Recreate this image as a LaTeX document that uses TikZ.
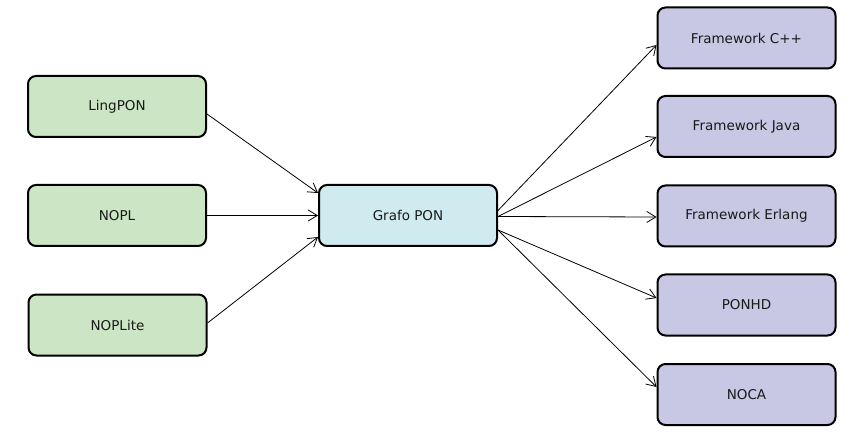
\documentclass[tikz,border=0pt]{standalone}
\usepackage{fontspec}
\setmainfont{DejaVu Sans}
\usetikzlibrary{arrows.meta}
\definecolor{srcgreen}{RGB}{204,229,196}
\definecolor{midcyan}{RGB}{208,235,240}
\definecolor{dstlav}{RGB}{200,200,228}
\definecolor{txt}{RGB}{25,25,25}
\begin{document}
\begin{tikzpicture}[x=1pt,y=-1pt,
  box/.style={draw=black,line width=2pt,rounded corners=8pt,minimum width=178pt,minimum height=61pt,inner sep=0pt,text=txt,font=\fontsize{13.5}{16}\selectfont},
  srcbox/.style={box,fill=srcgreen},
  midbox/.style={box,fill=midcyan},
  dstbox/.style={box,fill=dstlav},
  conn/.style={draw=black,line width=0.8pt,-{Straight Barb[length=9pt,width=11pt,line width=0.8pt]}}]
\useasboundingbox (0,0) rectangle (851,438);
\node[srcbox] (ling) at (117,106.5) {LingPON};
\node[srcbox] (nopl) at (117,215.5) {NOPL};
\node[srcbox] (lite) at (117.5,325) {NOPLite};
\node[midbox] (grafo) at (408,215.5) {Grafo PON};
\node[dstbox] (cpp) at (746.5,38) {Framework C++};
\node[dstbox] (java) at (746.5,126.5) {Framework Java};
\node[dstbox] (erl) at (746.5,216) {Framework Erlang};
\node[dstbox] (ponhd) at (746.5,305) {PONHD};
\node[dstbox] (noca) at (746.5,394.5) {NOCA};
\draw[conn] ([yshift=-7.5pt]ling.east) -- ([yshift=22.5pt]grafo.west);
\draw[conn] (nopl.east) -- (grafo.west);
\draw[conn] ([yshift=2pt]lite.east) -- ([yshift=-21.5pt]grafo.west);
\draw[conn] ([yshift=5pt]grafo.east) -- ([yshift=-7pt]cpp.west);
\draw[conn] ([yshift=-1pt]grafo.east) -- ([yshift=-10.5pt]java.west);
\draw[conn] ([yshift=-1pt]grafo.east) -- ([yshift=-1pt]erl.west);
\draw[conn] ([yshift=-14.5pt]grafo.east) -- ([yshift=7pt]ponhd.west);
\draw[conn] ([yshift=-14.5pt]grafo.east) -- ([yshift=7.5pt]noca.west);
\end{tikzpicture}
\end{document}
